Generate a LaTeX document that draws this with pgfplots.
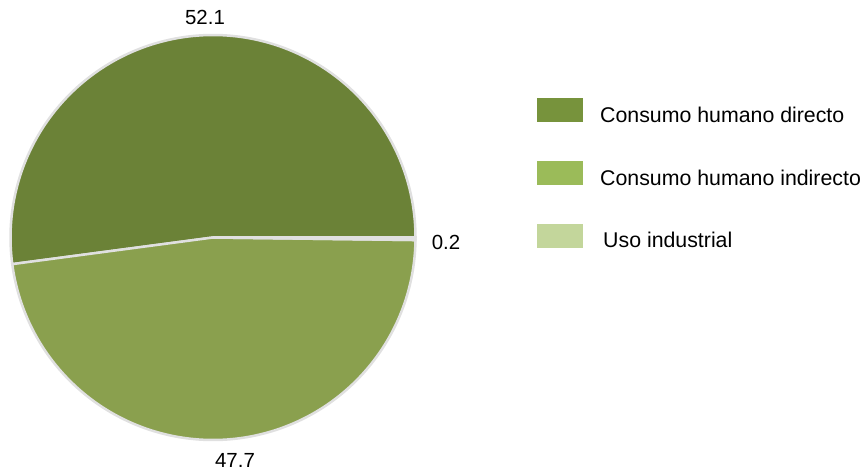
\documentclass[border=0pt]{standalone}
\usepackage{pgfplots}
\pgfplotsset{compat=1.18}
\usepackage{fontspec}
\setmainfont{Liberation Sans}
\definecolor{pieA}{HTML}{6B8237}
\definecolor{pieB}{HTML}{8AA04E}
\definecolor{pieC}{HTML}{C3D69B}
\definecolor{legA}{HTML}{77933C}
\definecolor{legB}{HTML}{9BBB59}
\definecolor{legC}{HTML}{C3D69B}
\definecolor{edge}{HTML}{E0E0E0}
% data (percent)
\def\va{52.1}
\def\vb{47.7}
\def\vc{0.2}
\newcommand\up[1]{\raisebox{5bp}[\height][\depth]{#1}}
\begin{document}
\fontsize{20.5}{24}\selectfont
\begin{tikzpicture}
\pgfmathsetmacro\aA{3.6*\va}
\pgfmathsetmacro\aB{\aA+3.6*\vb}
\pgfmathsetmacro\aC{\aB+3.6*\vc}
\def\cx{213}\def\cy{236.5}\def\R{202.5}
\begin{axis}[
  at={(0,0)}, anchor=south west,
  scale only axis, width=867bp, height=474bp,
  xmin=0, xmax=867, ymin=0, ymax=474,
  enlargelimits=false, hide axis, clip=false,
  legend image code/.code={\fill[#1] (0bp,-1bp) rectangle (46bp,23bp);},
  legend style={draw=none, fill=none, at={(axis cs:537,376)}, anchor=north west,
    font=\fontsize{21.4}{24}\selectfont, column sep=17bp, row sep=30.5bp,
    inner sep=0pt, nodes={inner sep=0pt}},
  legend cell align=left,
]
\path (rel axis cs:0,0) rectangle (rel axis cs:1,1);
\addplot[fill=pieA, draw=edge, line width=2.5bp, domain=0:\aA, samples=150, variable=\t, forget plot]
  ({\cx+\R*cos(\t)},{\cy+\R*sin(\t)}) -- (axis cs:\cx,\cy) -- cycle;
\addplot[fill=pieB, draw=edge, line width=2.5bp, domain=\aA:\aB, samples=150, variable=\t, forget plot]
  ({\cx+\R*cos(\t)},{\cy+\R*sin(\t)}) -- (axis cs:\cx,\cy) -- cycle;
\addplot[fill=pieC, draw=edge, line width=2.5bp, domain=\aB:\aC, samples=5, variable=\t, forget plot]
  ({\cx+\R*cos(\t)},{\cy+\R*sin(\t)}) -- (axis cs:\cx,\cy) -- cycle;
\node at (axis cs:205,457) {52.1};
\node at (axis cs:235,14) {47.7};
\node at (axis cs:446,232) {0.2};
\addlegendimage{fill=legA, draw=none}
\addlegendentry{\up{Consumo humano directo}}
\addlegendimage{fill=legB, draw=none}
\addlegendentry{\up{Consumo humano indirecto}}
\addlegendimage{fill=legC, draw=none}
\addlegendentry{\up{\hspace{3bp}Uso industrial}}
\end{axis}
\end{tikzpicture}
\end{document}
